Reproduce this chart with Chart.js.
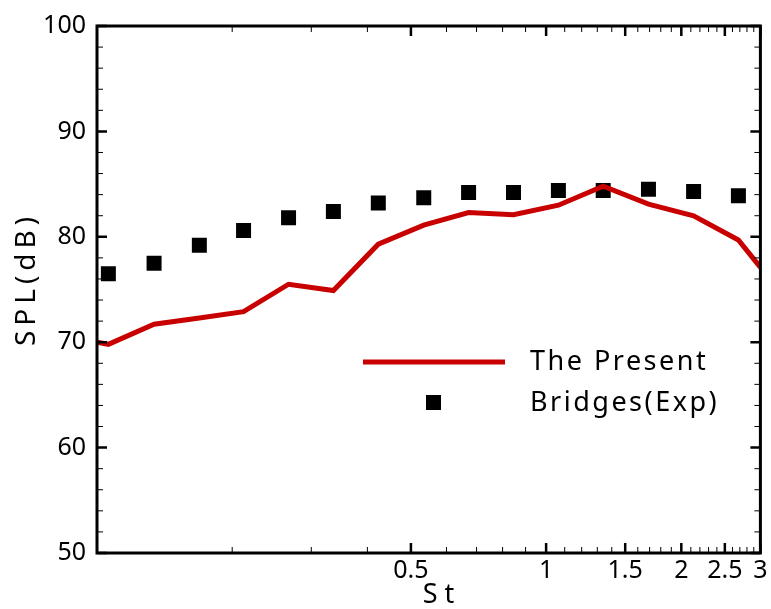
<!DOCTYPE html>
<html>
<head>
<meta charset="utf-8">
<script src="https://cdn.jsdelivr.net/npm/chart.js@4"></script>
<style>
  html, body { margin: 0; padding: 0; background: #fff; }
  #wrap { position: relative; width: 771px; height: 609px; }
</style>
</head>
<body>
<div id="wrap"><canvas id="c" width="771" height="609"></canvas></div>
<script>
// Strouhal numbers and SPL values
const stExp = [0.106, 0.134, 0.169, 0.212, 0.267, 0.336, 0.423, 0.534, 0.672, 0.846, 1.065, 1.34, 1.69, 2.13, 2.68];
const splExp = [76.5, 77.5, 79.2, 80.6, 81.8, 82.4, 83.2, 83.7, 84.2, 84.2, 84.4, 84.4, 84.5, 84.3, 83.9];
const stSim = [0.1, 0.106, 0.134, 0.169, 0.212, 0.267, 0.336, 0.423, 0.534, 0.672, 0.846, 1.065, 1.34, 1.69, 2.13, 2.68, 3.0];
const splSim = [70.0, 69.8, 71.7, 72.3, 72.9, 75.5, 74.9, 79.3, 81.1, 82.3, 82.1, 83.0, 84.8, 83.1, 82.0, 79.7, 77.1];
const xTicks = [0.5, 1, 1.5, 2, 2.5, 3];
const xMinor = [0.2, 0.3, 0.4, 0.6, 0.7, 0.8, 0.9, 1.1, 1.2, 1.3, 1.4, 1.6, 1.7, 1.8, 1.9, 2.1, 2.2, 2.3, 2.4, 2.6, 2.7, 2.8, 2.9];
const yTicks = [50, 60, 70, 80, 90, 100];
const yMinor = [52, 54, 56, 58, 62, 64, 66, 68, 72, 74, 76, 78, 82, 84, 86, 88, 92, 94, 96, 98];
const labels = ['The Present', 'Bridges(Exp)'];

const RED = 'rgb(200, 0, 0)';
const FONT = '"Noto Sans", sans-serif';

// frame + inward ticks on all four sides, titles and legend
const frameTicks = {
  id: 'frameTicks',
  afterDatasetsDraw(chart) {
    const { ctx, chartArea: a, scales: { x, y } } = chart;
    ctx.save();
    ctx.strokeStyle = '#000';
    const tick = (vals, len, w, isX) => {
      ctx.lineWidth = w;
      ctx.beginPath();
      vals.forEach(v => {
        if (isX) {
          const px = x.getPixelForValue(v);
          ctx.moveTo(px, a.bottom); ctx.lineTo(px, a.bottom - len);
          ctx.moveTo(px, a.top); ctx.lineTo(px, a.top + len);
        } else {
          const py = y.getPixelForValue(v);
          ctx.moveTo(a.left, py); ctx.lineTo(a.left + len, py);
          ctx.moveTo(a.right, py); ctx.lineTo(a.right - len, py);
        }
      });
      ctx.stroke();
    };
    tick(xMinor, 6, 1, true);
    tick(xTicks, 10, 2.5, true);
    tick(yMinor, 6, 1, false);
    tick(yTicks, 10, 2.5, false);
    ctx.lineWidth = 3;
    ctx.strokeRect(a.left, a.top, a.right - a.left, a.bottom - a.top);
    ctx.restore();
  },
  afterDraw(chart) {
    const { ctx, chartArea: a } = chart;
    ctx.save();
    ctx.fillStyle = '#000';
    ctx.textBaseline = 'middle';

    // axis titles
    ctx.font = '27px ' + FONT;
    ctx.letterSpacing = '7px';
    ctx.textAlign = 'center';
    ctx.fillText('St', 442, 595);
    ctx.save();
    ctx.translate(27, 279);
    ctx.rotate(-Math.PI / 2);
    ctx.font = '28px ' + FONT;
    ctx.letterSpacing = '5px';
    ctx.fillText('SPL(dB)', 0, 0);
    ctx.restore();

    // legend
    const lx = a.left + 266, ly = a.top + 336;
    ctx.strokeStyle = RED;
    ctx.lineWidth = 5;
    ctx.beginPath();
    ctx.moveTo(lx, ly); ctx.lineTo(lx + 142, ly);
    ctx.stroke();
    ctx.fillRect(lx + 63, ly + 33, 15, 15);
    ctx.textAlign = 'left';
    ctx.font = '27px ' + FONT;
    ctx.letterSpacing = '2.5px';
    ctx.fillText(labels[0], lx + 167, ly);
    ctx.fillText(labels[1], lx + 167, ly + 41);
    ctx.restore();
  }
};

new Chart(document.getElementById('c'), {
  type: 'scatter',
  data: {
    datasets: [
      {
        label: labels[0],
        type: 'line',
        data: stSim.map((s, i) => ({ x: s, y: splSim[i] })),
        borderColor: RED,
        borderWidth: 5,
        pointRadius: 0,
        tension: 0,
        fill: false
      },
      {
        label: labels[1],
        data: stExp.map((s, i) => ({ x: s, y: splExp[i] })),
        pointStyle: 'rect',
        pointRadius: 10.6,
        backgroundColor: '#000',
        borderColor: '#000',
        borderWidth: 0
      }
    ]
  },
  options: {
    responsive: false,
    animation: false,
    layout: { padding: { top: 21, right: 9, left: 0, bottom: 0 } },
    plugins: { legend: { display: false }, tooltip: { enabled: false } },
    scales: {
      x: {
        type: 'logarithmic',
        min: 0.1,
        max: 3,
        afterFit: s => { s.height = 56; },
        afterBuildTicks: s => { s.ticks = xTicks.map(v => ({ value: v })); },
        grid: { display: false, drawTicks: false },
        border: { display: false },
        ticks: {
          color: '#000',
          font: { family: FONT, size: 25 },
          padding: 3,
          maxRotation: 0,
          autoSkip: false,
          callback: v => String(v)
        }
      },
      y: {
        min: 50,
        max: 100,
        afterFit: s => { s.width = 97; },
        afterBuildTicks: s => { s.ticks = yTicks.map(v => ({ value: v })); },
        grid: { display: false, drawTicks: false },
        border: { display: false },
        ticks: {
          color: '#000',
          font: { family: FONT, size: 25 },
          padding: 11
        }
      }
    }
  },
  plugins: [frameTicks]
});
</script>
</body>
</html>
